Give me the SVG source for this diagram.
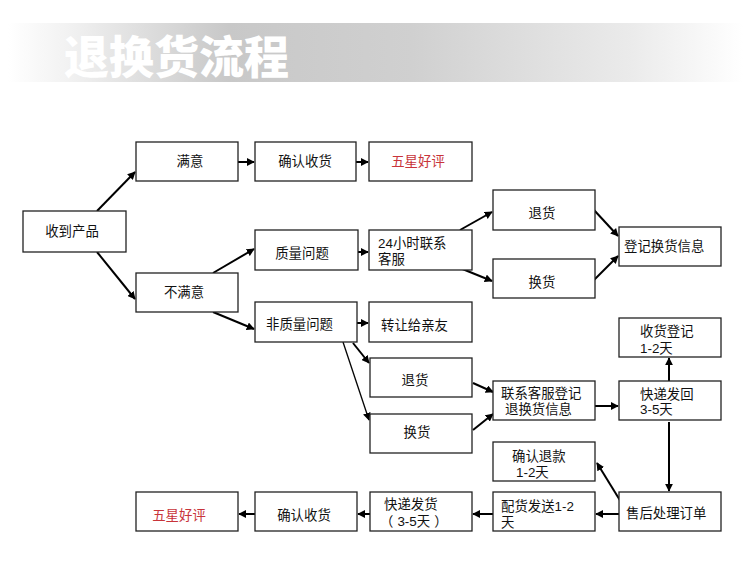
<svg xmlns="http://www.w3.org/2000/svg" width="750" height="575" viewBox="0 0 750 575">
<defs>
<linearGradient id="hdr" x1="0" y1="0" x2="1" y2="0">
<stop offset="0" stop-color="#ffffff"/>
<stop offset="0.08" stop-color="#f2f2f2"/>
<stop offset="0.3" stop-color="#c8c8c8"/>
<stop offset="0.55" stop-color="#d0d0d0"/>
<stop offset="0.85" stop-color="#ebebeb"/>
<stop offset="1" stop-color="#ffffff"/>
</linearGradient>
<marker id="ah" viewBox="0 0 10 10" refX="9" refY="5" markerWidth="4" markerHeight="4" orient="auto" markerUnits="strokeWidth">
<path d="M0,0 L10,5 L0,10 z" fill="#000"/>
</marker>
<marker id="ahs" viewBox="0 0 10 10" refX="9" refY="5" markerWidth="6" markerHeight="6" orient="auto" markerUnits="strokeWidth">
<path d="M0,0 L10,5 L0,10 z" fill="#000"/>
</marker>
</defs>
<style>
.box{fill:#fff;stroke:#222;stroke-width:1.3}
.t{font-family:"Liberation Sans","Noto Sans CJK SC",sans-serif;font-size:13.4px;fill:#111}
.c{text-anchor:middle}
.red{fill:#c8343a}
.ln{stroke:#000;stroke-width:2;fill:none;marker-end:url(#ah)}
.thin{stroke:#000;stroke-width:1.3;fill:none;marker-end:url(#ahs)}
.title{font-family:"Noto Sans CJK SC","Liberation Sans",sans-serif;font-size:45px;font-weight:900;fill:#fff}
</style>
<rect width="750" height="575" fill="#fff"/>
<rect x="8" y="23" width="735" height="59" fill="url(#hdr)"/>
<text class="title" x="64" y="74">退换货流程</text>

<g id="connectors">
<line class="ln" x1="97" y1="211" x2="135" y2="172"/>
<line class="ln" x1="97" y1="252" x2="135" y2="299"/>
<line class="ln" x1="238" y1="162" x2="254" y2="162"/>
<line class="ln" x1="356" y1="162" x2="368" y2="162"/>
<line class="ln" x1="213" y1="273" x2="254" y2="249"/>
<line class="ln" x1="213" y1="312" x2="254" y2="329"/>
<line class="ln" x1="357" y1="252" x2="368" y2="252"/>
<line class="ln" x1="460" y1="230" x2="492" y2="212"/>
<line class="ln" x1="460" y1="268" x2="492" y2="281"/>
<line class="ln" x1="594" y1="210" x2="618" y2="236"/>
<line class="ln" x1="594" y1="280" x2="618" y2="256"/>
<line class="ln" x1="356" y1="323" x2="368" y2="323"/>
<line class="ln" x1="353" y1="343" x2="369" y2="363"/>
<line class="thin" x1="343" y1="342" x2="369" y2="420"/>
<line class="ln" x1="473" y1="383" x2="493" y2="392"/>
<line class="ln" x1="473" y1="430" x2="493" y2="414"/>
<line class="ln" x1="595" y1="406" x2="618" y2="406"/>
<line class="ln" x1="669" y1="381" x2="669" y2="358"/>
<line class="ln" x1="669" y1="422" x2="669" y2="491"/>
<line class="ln" x1="621" y1="502" x2="597" y2="463"/>
<line class="ln" x1="619" y1="514" x2="596" y2="514"/>
<line class="ln" x1="493" y1="514" x2="473" y2="514"/>
<line class="ln" x1="370" y1="514" x2="358" y2="514"/>
<line class="ln" x1="255" y1="514" x2="239" y2="514"/>
</g>

<g id="n-receive"><rect class="box" x="23" y="211" width="103" height="41"/><text class="t c" x="72" y="236">收到产品</text></g>
<g id="n-satisfied"><rect class="box" x="136" y="142" width="102" height="39"/><text class="t c" x="190" y="166">满意</text></g>
<g id="n-confirm1"><rect class="box" x="255" y="142" width="101" height="39"/><text class="t c" x="305" y="166">确认收货</text></g>
<g id="n-five1"><rect class="box" x="369" y="142" width="103" height="39"/><text class="t c red" x="418" y="166">五星好评</text></g>
<g id="n-unsatisfied"><rect class="box" x="136" y="273" width="102" height="39"/><text class="t c" x="184" y="297">不满意</text></g>
<g id="n-quality"><rect class="box" x="255" y="230" width="103" height="40"/><text class="t c" x="302" y="258">质量问题</text></g>
<g id="n-24h"><rect class="box" x="369" y="230" width="103" height="40"/><text class="t" x="378" y="248">24小时联系</text><text class="t" x="378" y="264">客服</text></g>
<g id="n-return1"><rect class="box" x="493" y="190" width="102" height="40"/><text class="t c" x="542" y="218">退货</text></g>
<g id="n-exchange1"><rect class="box" x="493" y="259" width="102" height="39"/><text class="t c" x="542" y="287">换货</text></g>
<g id="n-register"><rect class="box" x="619" y="227" width="102" height="39"/><text class="t" x="624" y="251">登记换货信息</text></g>
<g id="n-nonquality"><rect class="box" x="255" y="302" width="102" height="40"/><text class="t" x="266" y="329">非质量问题</text></g>
<g id="n-transfer"><rect class="box" x="369" y="302" width="103" height="40"/><text class="t" x="381" y="330">转让给亲友</text></g>
<g id="n-return2"><rect class="box" x="370" y="358" width="102" height="39"/><text class="t c" x="415" y="385">退货</text></g>
<g id="n-exchange2"><rect class="box" x="370" y="414" width="102" height="39"/><text class="t c" x="417" y="437">换货</text></g>
<g id="n-contact"><rect class="box" x="493" y="381" width="102" height="39"/><text class="t" x="501" y="398">联系客服登记</text><text class="t" x="505" y="414">退换货信息</text></g>
<g id="n-sendback"><rect class="box" x="619" y="381" width="102" height="39"/><text class="t" x="640" y="399">快递发回</text><text class="t" x="640" y="414">3-5天</text></g>
<g id="n-recvreg"><rect class="box" x="619" y="318" width="102" height="39"/><text class="t" x="640" y="336">收货登记</text><text class="t" x="640" y="353">1-2天</text></g>
<g id="n-refund"><rect class="box" x="493" y="442" width="102" height="39"/><text class="t" x="512" y="461">确认退款</text><text class="t" x="516" y="477">1-2天</text></g>
<g id="n-aftersale"><rect class="box" x="619" y="492" width="102" height="39"/><text class="t" x="626" y="518">售后处理订单</text></g>
<g id="n-dispatch"><rect class="box" x="493" y="492" width="102" height="39"/><text class="t" x="501" y="511">配货发送1-2</text><text class="t" x="501" y="527">天</text></g>
<g id="n-express"><rect class="box" x="370" y="492" width="102" height="39"/><text class="t" x="384" y="509">快递发货</text><text class="t" x="380" y="526">（<tspan dx="4">3-5天</tspan><tspan dx="4">）</tspan></text></g>
<g id="n-confirm2"><rect class="box" x="255" y="492" width="102" height="39"/><text class="t c" x="304" y="520">确认收货</text></g>
<g id="n-five2"><rect class="box" x="136" y="492" width="102" height="39"/><text class="t c red" x="179" y="520">五星好评</text></g>
</svg>
